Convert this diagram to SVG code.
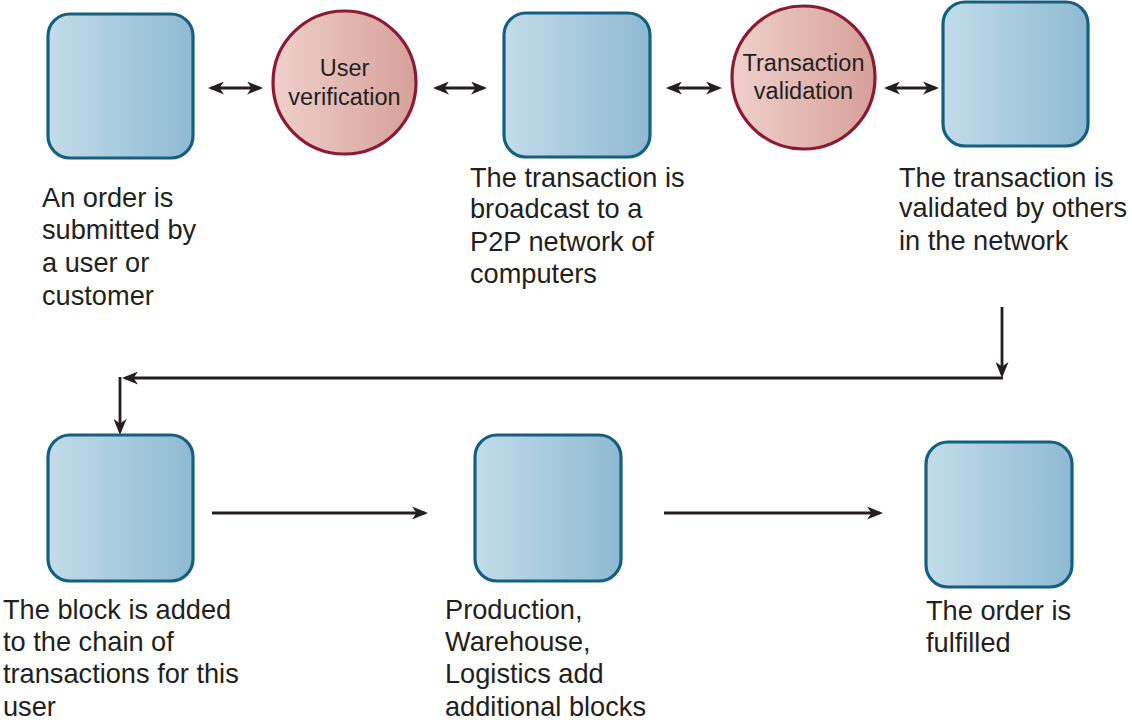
<svg xmlns="http://www.w3.org/2000/svg" width="1132" height="724" viewBox="0 0 1132 724">
  <defs>
    <linearGradient id="boxGrad" x1="0" y1="0" x2="1" y2="0">
      <stop offset="0" stop-color="#c3dce8"/>
      <stop offset="0.5" stop-color="#a8cbdf"/>
      <stop offset="1" stop-color="#8fbad3"/>
    </linearGradient>
    <linearGradient id="circGrad" x1="0" y1="0" x2="1" y2="0">
      <stop offset="0" stop-color="#f0d0cb"/>
      <stop offset="1" stop-color="#d6a099"/>
    </linearGradient>
    <marker id="ah" viewBox="0 0 16 13" refX="12.5" refY="6.5" markerWidth="16" markerHeight="13" markerUnits="userSpaceOnUse" orient="auto-start-reverse">
      <path d="M0,0 L16,6.5 L0,13 L4.5,6.5 Z" fill="#231f20"/>
    </marker>
    <style>
      .box { fill: url(#boxGrad); stroke: #14607f; stroke-width: 3.2; }
      .circ { fill: url(#circGrad); stroke: #8c1a33; stroke-width: 3.2; }
      .lbl { font-family: "Liberation Sans", Arial, sans-serif; font-size: 27.2px; fill: #231f20; }
      .clbl { font-family: "Liberation Sans", Arial, sans-serif; font-size: 23.5px; fill: #231f20; text-anchor: middle; }
      .conn { fill: none; stroke: #231f20; stroke-width: 2.8; }
      .one { marker-end: url(#ah); }
      .two { marker-start: url(#ah); marker-end: url(#ah); }
    </style>
  </defs>

  <g id="connectors">
    <path class="conn two" d="M211.5,88 L259.5,88"/>
    <path class="conn two" d="M436.5,88 L483.5,88"/>
    <path class="conn two" d="M669.5,88 L718.5,88"/>
    <path class="conn two" d="M887.5,88 L935.5,88"/>
    <path class="conn one" d="M1002,307 L1002,374.5"/>
    <path class="conn one" d="M1003,378 L125.5,378"/>
    <path class="conn one" d="M120,377 L120,431.5"/>
    <path class="conn one" d="M212,513 L424.5,513"/>
    <path class="conn one" d="M664,513 L879.5,513"/>
  </g>

  <g id="node-order">
    <rect class="box" x="48" y="14" width="145" height="144" rx="22" ry="22"/>
    <text class="lbl" x="42" y="207">An order is</text>
    <text class="lbl" x="42" y="239">submitted by</text>
    <text class="lbl" x="42" y="272">a user or</text>
    <text class="lbl" x="42" y="305">customer</text>
  </g>

  <g id="node-user-verification">
    <circle class="circ" cx="344.5" cy="82.5" r="71.5"/>
    <text class="clbl" x="344.5" y="76">User</text>
    <text class="clbl" x="344.5" y="105">verification</text>
  </g>

  <g id="node-broadcast">
    <rect class="box" x="504" y="13" width="146" height="144" rx="22" ry="22"/>
    <text class="lbl" x="470" y="187">The transaction is</text>
    <text class="lbl" x="470" y="218">broadcast to a</text>
    <text class="lbl" x="470" y="251">P2P network of</text>
    <text class="lbl" x="470" y="283">computers</text>
  </g>

  <g id="node-transaction-validation">
    <circle class="circ" cx="803.5" cy="77.5" r="71.5"/>
    <text class="clbl" x="803.5" y="71">Transaction</text>
    <text class="clbl" x="803.5" y="99">validation</text>
  </g>

  <g id="node-validated">
    <rect class="box" x="943" y="2" width="145" height="144" rx="22" ry="22"/>
    <text class="lbl" x="899" y="187">The transaction is</text>
    <text class="lbl" x="899" y="217">validated by others</text>
    <text class="lbl" x="899" y="250">in the network</text>
  </g>

  <g id="node-block-added">
    <rect class="box" x="48" y="435" width="145" height="146" rx="22" ry="22"/>
    <text class="lbl" x="3" y="619">The block is added</text>
    <text class="lbl" x="3" y="651">to the chain of</text>
    <text class="lbl" x="3" y="683">transactions for this</text>
    <text class="lbl" x="3" y="716">user</text>
  </g>

  <g id="node-additional-blocks">
    <rect class="box" x="475" y="435" width="146" height="146" rx="22" ry="22"/>
    <text class="lbl" x="445" y="619">Production,</text>
    <text class="lbl" x="445" y="651">Warehouse,</text>
    <text class="lbl" x="445" y="683">Logistics add</text>
    <text class="lbl" x="445" y="716">additional blocks</text>
  </g>

  <g id="node-fulfilled">
    <rect class="box" x="926" y="442" width="146" height="145" rx="22" ry="22"/>
    <text class="lbl" x="926" y="620">The order is</text>
    <text class="lbl" x="926" y="652">fulfilled</text>
  </g>
</svg>
